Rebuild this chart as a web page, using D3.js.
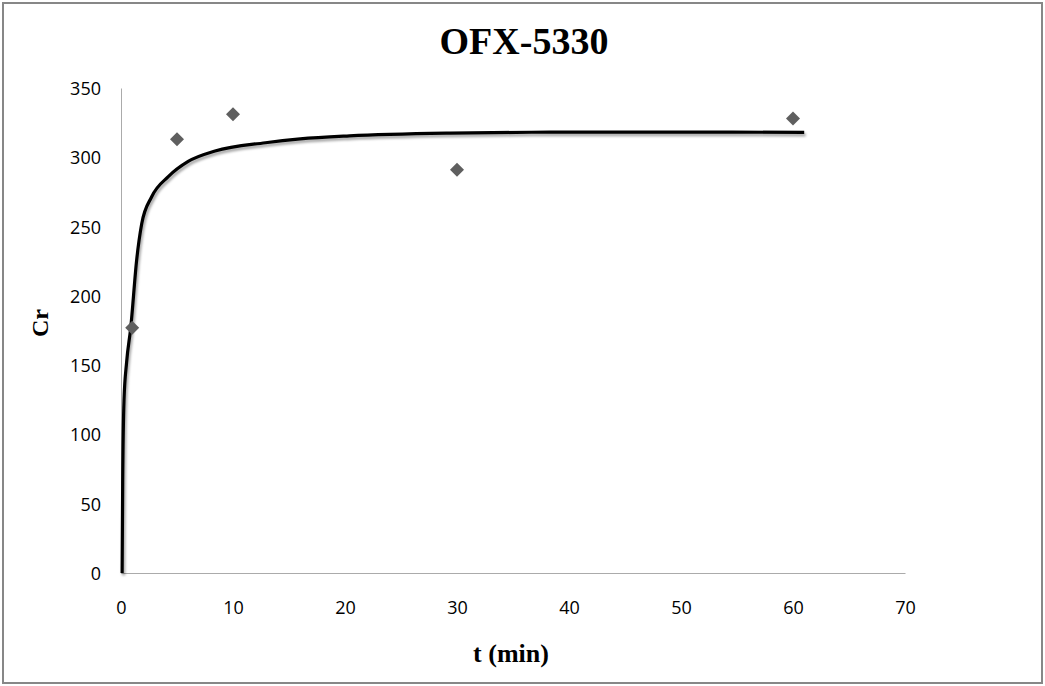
<!DOCTYPE html>
<html>
<head>
<meta charset="utf-8">
<script src="https://cdn.jsdelivr.net/npm/d3@7"></script>
<style>
  html, body { margin: 0; padding: 0; background: #fff; }
  svg { display: block; }
</style>
</head>
<body>
<svg id="chart" width="1045" height="686"></svg>
<script>
// ---- data ----
const chartTitle = "OFX-5330";
const xAxisTitle = "t (min)";
const yAxisTitle = "Cr";
const timeMin = [1, 5, 10, 30, 60];
const crValues = [177, 313, 331, 291, 328];
const fitTime = [0.1, 0.15, 0.27, 0.5, 0.87, 1.4, 1.85, 2.74, 4.22, 6, 8.4, 12.9, 16, 20.4, 29.4, 38.3, 50, 61];
const fitValues = [0, 65, 125, 152, 177, 226, 252, 271.5, 286, 297, 304.5, 310.5, 313.3, 315.5, 317.5, 318.1, 318.2, 318];
const xTicks = [0, 10, 20, 30, 40, 50, 60, 70];
const yTicks = [0, 50, 100, 150, 200, 250, 300, 350];

// ---- layout ----
const svg = d3.select("#chart");
const plot = { left: 121, right: 905, top: 88, bottom: 573 };

const x = d3.scaleLinear().domain([0, 70]).range([plot.left, plot.right]);
const y = d3.scaleLinear().domain([0, 350]).range([plot.bottom, plot.top]);

// outer border
svg.append("rect")
  .attr("x", 3).attr("y", 3).attr("width", 1039).attr("height", 680)
  .attr("fill", "#fff").attr("stroke", "#878787").attr("stroke-width", 2);

// shadow filter
const defs = svg.append("defs");
const f = defs.append("filter").attr("id", "shadow")
  .attr("x", "-5%").attr("y", "-5%").attr("width", "110%").attr("height", "110%");
f.append("feDropShadow").attr("dx", 1.5).attr("dy", 2.5).attr("stdDeviation", 1.3)
  .attr("flood-color", "#000").attr("flood-opacity", 0.35);

// axes
const sansFont = "'Open Sans', 'Liberation Sans', sans-serif";
const serifFont = "'Liberation Serif', 'DejaVu Serif', serif";

const xAxis = d3.axisBottom(x).tickValues(xTicks).tickSize(0).tickPadding(0);
const gx = svg.append("g").attr("transform", `translate(0,${plot.bottom})`).call(xAxis);
gx.select(".domain").attr("stroke", "#ababab").attr("stroke-width", 1);
gx.selectAll("text")
  .attr("font-family", sansFont).attr("font-size", 18).attr("fill", "#000")
  .attr("dy", null).attr("y", 41);

const yAxis = d3.axisLeft(y).tickValues(yTicks).tickSize(0).tickPadding(0);
const gy = svg.append("g").attr("transform", `translate(${plot.left},0)`).call(yAxis);
gy.select(".domain").attr("stroke", "#ababab").attr("stroke-width", 1);
gy.selectAll("text")
  .attr("font-family", sansFont).attr("font-size", 18).attr("fill", "#000")
  .attr("x", -20).attr("dy", "0.36em");

// fitted curve
const line = d3.line()
  .x((d, i) => x(fitTime[i]))
  .y((d, i) => y(fitValues[i]))
  .curve(d3.curveMonotoneX);
svg.append("path")
  .datum(fitValues)
  .attr("d", line)
  .attr("fill", "none")
  .attr("stroke", "#000")
  .attr("stroke-width", 3.2)
  .attr("stroke-linecap", "butt")
  .attr("filter", "url(#shadow)");

// diamonds
const r = 7;
svg.append("g").selectAll("path")
  .data(timeMin.map((t, i) => [t, crValues[i]]))
  .join("path")
  .attr("d", d => {
    const cx = x(d[0]), cy = y(d[1]);
    return `M${cx},${cy - r}L${cx + r},${cy}L${cx},${cy + r}L${cx - r},${cy}Z`;
  })
  .attr("fill", "#5f5f5f");

// titles
svg.append("text")
  .attr("x", 524).attr("y", 54)
  .attr("text-anchor", "middle")
  .attr("font-family", serifFont).attr("font-weight", "bold").attr("font-size", 38)
  .attr("fill", "#000")
  .text(chartTitle);

svg.append("text")
  .attr("x", 511).attr("y", 662)
  .attr("text-anchor", "middle")
  .attr("font-family", serifFont).attr("font-weight", "bold").attr("font-size", 26)
  .attr("fill", "#000")
  .text(xAxisTitle);

svg.append("text")
  .attr("transform", "translate(48,323) rotate(-90)")
  .attr("text-anchor", "middle")
  .attr("font-family", serifFont).attr("font-weight", "bold").attr("font-size", 24)
  .attr("fill", "#000")
  .text(yAxisTitle);
</script>
</body>
</html>
